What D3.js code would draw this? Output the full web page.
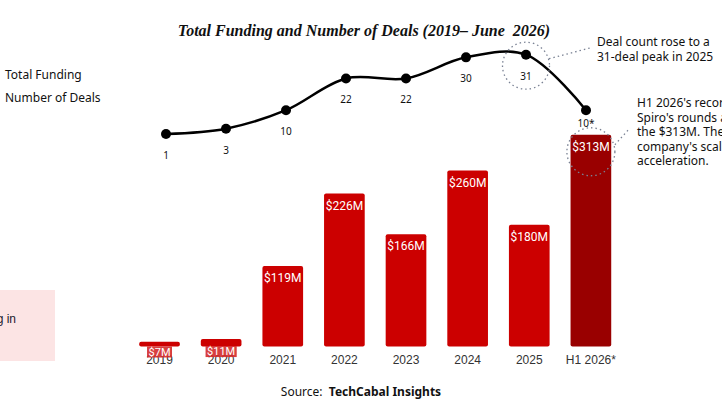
<!DOCTYPE html>
<html>
<head>
<meta charset="utf-8">
<script src="https://d3js.org/d3.v7.min.js"></script>
<style>
  body { margin: 0; background: #fff; }
  svg { display: block; }
</style>
</head>
<body>
<script>
// chart data
const years = ['2019', '2020', '2021', '2022', '2023', '2024', '2025', 'H1 2026*'];
const funding = [7, 11, 119, 226, 166, 260, 180, 313];
const deals = [1, 3, 10, 22, 22, 30, 31, 10];
const dealLabels = ['1', '3', '10', '22', '22', '30', '31', '10*'];

const width = 722, height = 406;
const red = '#cc0000', darkRed = '#990000';

const svg = d3.select('body').append('svg')
  .attr('width', width)
  .attr('height', height);

const x = d3.scaleBand()
  .domain(years)
  .range([128.7, 621.7])
  .paddingInner(0.34)
  .paddingOuter(0.17);

const y = d3.scaleLinear()
  .domain([0, 320])
  .range([346.5, 130]);

const xl = d3.scalePoint()
  .domain(years)
  .range([166, 586]);

const yl = d3.scaleLinear()
  .domain([0, 31])
  .range([136.6, 54.7]);

const rows = years.map((d, i) => ({year: d, fund: funding[i], deal: deals[i], label: dealLabels[i], i: i}));
const last = years.length - 1;

// title
svg.append('text')
  .attr('x', 364)
  .attr('y', 36)
  .attr('text-anchor', 'middle')
  .style('font-family', '"Liberation Serif", serif')
  .style('font-style', 'italic')
  .style('font-weight', 'bold')
  .style('font-size', '16px')
  .style('white-space', 'pre')
  .attr('fill', '#111')
  .text('Total Funding and Number of Deals (2019\u2013 June  2026)');

// left legend (swatches sit off-canvas)
svg.append('g')
  .style('font-family', '"Noto Sans", sans-serif')
  .style('font-size', '12px')
  .selectAll('text')
  .data(['Total Funding', 'Number of Deals'])
  .join('text')
  .attr('x', 5)
  .attr('y', (d, i) => 79 + i * 23)
  .attr('fill', '#111')
  .text(d => d);

// pink note box, mostly cut off at left
svg.append('rect')
  .attr('x', -120).attr('y', 290)
  .attr('width', 175).attr('height', 71)
  .attr('fill', '#fce4e4');
svg.append('text')
  .attr('x', 16).attr('y', 323)
  .attr('text-anchor', 'end')
  .style('font-family', '"Liberation Sans", Arial, sans-serif')
  .style('font-size', '12px')
  .attr('fill', '#1a1a2e')
  .text('Record funding in');

// bars
svg.append('g')
  .selectAll('rect')
  .data(rows)
  .join('rect')
  .attr('x', d => x(d.year))
  .attr('y', d => y(d.fund))
  .attr('width', x.bandwidth())
  .attr('height', d => y(0) - y(d.fund))
  .attr('rx', 2)
  .attr('fill', d => d.i === last ? darkRed : red);

// x axis labels
const ax = svg.append('g')
  .attr('transform', `translate(0,${y(0) + 6.5})`)
  .call(d3.axisBottom(x).tickSize(0).tickPadding(2));
ax.select('.domain').remove();
ax.selectAll('text')
  .style('font-family', '"Liberation Sans", Arial, sans-serif')
  .style('font-size', '12px')
  .attr('fill', '#333');

// bar value labels
const labelY = d => Math.min(y(d.fund) + 16, y(0) + 9);
const vl = svg.append('g')
  .selectAll('g')
  .data(rows)
  .join('g');

const bg = vl.filter(d => d.fund < 20)
  .append('rect')
  .attr('y', d => labelY(d) - 9)
  .attr('height', 11)
  .attr('fill', '#d42a2a')
  .attr('opacity', 0.9);

vl.append('text')
  .attr('x', d => x(d.year) + x.bandwidth() / 2)
  .attr('y', labelY)
  .attr('text-anchor', 'middle')
  .style('font-family', 'Roboto, sans-serif')
  .style('font-size', d => d.fund < 20 ? '11px' : '12px')
  .attr('fill', '#fff')
  .text(d => '$' + d.fund + 'M');

bg.each(function () {
  const t = d3.select(this.parentNode).select('text').node();
  const w = t.getComputedTextLength() + 3;
  const cx = +t.getAttribute('x');
  d3.select(this).attr('x', cx - w / 2).attr('width', w);
});

// deals line
const line = d3.line()
  .x(d => xl(d.year))
  .y(d => yl(d.deal))
  .curve(d3.curveCatmullRom.alpha(0.5));

svg.append('path')
  .datum(rows)
  .attr('d', line)
  .attr('fill', 'none')
  .attr('stroke', '#000')
  .attr('stroke-width', 2.5);

svg.append('g')
  .selectAll('circle')
  .data(rows)
  .join('circle')
  .attr('cx', d => xl(d.year))
  .attr('cy', d => yl(d.deal))
  .attr('r', 5)
  .attr('fill', '#000');

svg.append('g')
  .selectAll('text')
  .data(rows)
  .join('text')
  .attr('x', d => xl(d.year))
  .attr('y', d => yl(d.deal) + (d.i === last ? 17 : 25))
  .attr('text-anchor', 'middle')
  .style('font-family', '"Noto Sans", sans-serif')
  .style('font-size', '10px')
  .attr('fill', '#111')
  .text(d => d.label);

// annotations
const dot = {stroke: '#7a8294', 'stroke-width': 1.3, 'stroke-dasharray': '1.5,3', fill: 'none'};
const i25 = 6;

const c1 = svg.append('circle')
  .attr('cx', xl(years[i25]))
  .attr('cy', yl(deals[i25]) + 11)
  .attr('r', 23.5);
const l1 = svg.append('line')
  .attr('x1', xl(years[i25]) + 23).attr('y1', yl(deals[i25]) + 4)
  .attr('x2', 590).attr('y2', 48);

const c2 = svg.append('circle')
  .attr('cx', x(years[last]) + x.bandwidth() / 2)
  .attr('cy', y(funding[last]) + 17)
  .attr('r', 24);
const l2 = svg.append('line')
  .attr('x1', x(years[last]) + x.bandwidth() / 2 + 24).attr('y1', y(funding[last]) + 10)
  .attr('x2', 630).attr('y2', 128);

[c1, l1, c2, l2].forEach(s => Object.entries(dot).forEach(([k, v]) => s.attr(k, v)));

const annoFont = '"Noto Sans", sans-serif';
svg.append('text')
  .attr('x', 597).attr('y', 46)
  .style('font-family', annoFont).style('font-size', '12px').attr('fill', '#111')
  .selectAll('tspan')
  .data(['Deal count rose to a', '31-deal peak in 2025'])
  .join('tspan')
  .attr('x', 597)
  .attr('dy', (d, i) => i ? 15 : 0)
  .text(d => d);

svg.append('text')
  .attr('x', 637).attr('y', 107)
  .style('font-family', annoFont).style('font-size', '12px').attr('fill', '#111')
  .selectAll('tspan')
  .data(["H1 2026's record haul is led by", "Spiro's rounds alone, which make up most of", 'the $313M. The deals reflect the', "company's scale-up and continental", 'acceleration.'])
  .join('tspan')
  .attr('x', 637)
  .attr('dy', (d, i) => i ? 14.5 : 0)
  .text(d => d);

// source
const src = svg.append('text')
  .attr('x', 361).attr('y', 396)
  .attr('text-anchor', 'middle')
  .style('font-family', '"Noto Sans", sans-serif')
  .style('font-size', '12px')
  .style('white-space', 'pre')
  .attr('fill', '#111');
src.append('tspan').text('Source:  ');
src.append('tspan').style('font-weight', 'bold').text('TechCabal Insights');
</script>
</body>
</html>
